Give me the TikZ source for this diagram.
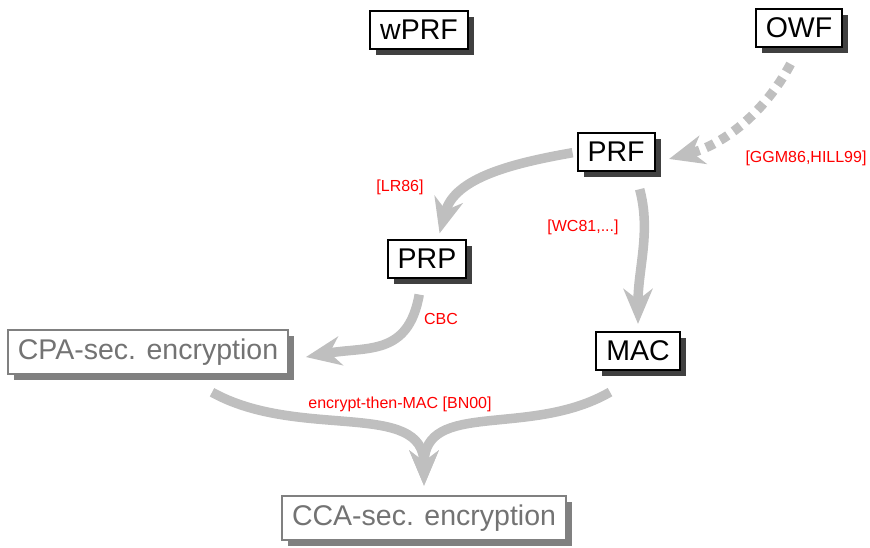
\documentclass[tikz,border=0pt]{standalone}
\usepackage{fontspec}
\setmainfont{Liberation Sans}
\usetikzlibrary{arrows.meta,shadows}

\begin{document}
\begin{tikzpicture}[x=1pt, y=1pt,
		box/.style={draw, line width=2pt, fill=white, inner xsep=10pt, inner ysep=9pt,
			font=\fontsize{28.5}{32}\selectfont,
			drop shadow={shadow xshift=6pt, shadow yshift=-6pt, fill=#1, opacity=1}},
		box/.default=black!75,
		greybox/.style={box=black!50, draw=black!50, text=black!55},
		flow/.style={draw=black!25, line width=9.5pt, -{Stealth[length=35pt, width=29pt, inset=11pt]}},
		lbl/.style={text=red, font=\fontsize{16}{18}\selectfont}]
	\useasboundingbox (0,0) rectangle (870,-547);
	% primitives
	\node[box] (wprf) at (419,-30) {wPRF};
	\node[box] (owf) at (799,-28) {OWF};
	\node[box] (prf) at (616,-152) {PRF};
	\node[box] (prp) at (427,-259) {PRP};
	\node[box] (mac) at (638,-351) {MAC};
	\node[greybox] (cpa) at (148,-352) {CPA-sec. encryption};
	\node[greybox] (cca) at (424,-518) {CCA-sec. encryption};
	% constructions
	\draw[flow, dash pattern=on 9pt off 7pt, shorten <=18pt, shorten >=14pt]
		(owf.south) to[out=-118, in=15] (prf.-15);
	\draw[flow, shorten <=4pt, shorten >=6pt]
		(prf.west) to[out=190, in=75] ([xshift=11pt]prp.north);
	\draw[flow, shorten <=18pt, shorten >=7pt]
		([xshift=19pt]prf.south) to[out=-75, in=90] (mac.north);
	\draw[flow, shorten <=16pt, shorten >=17pt]
		([xshift=-5pt]prp.south) to[out=-100, in=10, looseness=1.3] ([yshift=-8pt]cpa.east);
	\draw[flow, shorten >=9pt]
		([xshift=64pt, yshift=-17pt]cpa.south) to[out=-29, in=90, out distance=100pt, in distance=96pt] (cca.north);
	\draw[flow, shorten >=9pt]
		([xshift=-28pt, yshift=-21pt]mac.south) to[out=210, in=90, out distance=93pt, in distance=96pt] (cca.north);
	% references
	\node[lbl] (ggm) at (806,-158) {[GGM86,HILL99]};
	\node[lbl] (lr) at (400,-187) {[LR86]};
	\node[lbl] (wc) at (583,-227) {[WC81,...]};
	\node[lbl] (cbc) at (441,-319) {CBC};
	\node[lbl] (etm) at (400,-404) {encrypt-then-MAC [BN00]};
\end{tikzpicture}
\end{document}
